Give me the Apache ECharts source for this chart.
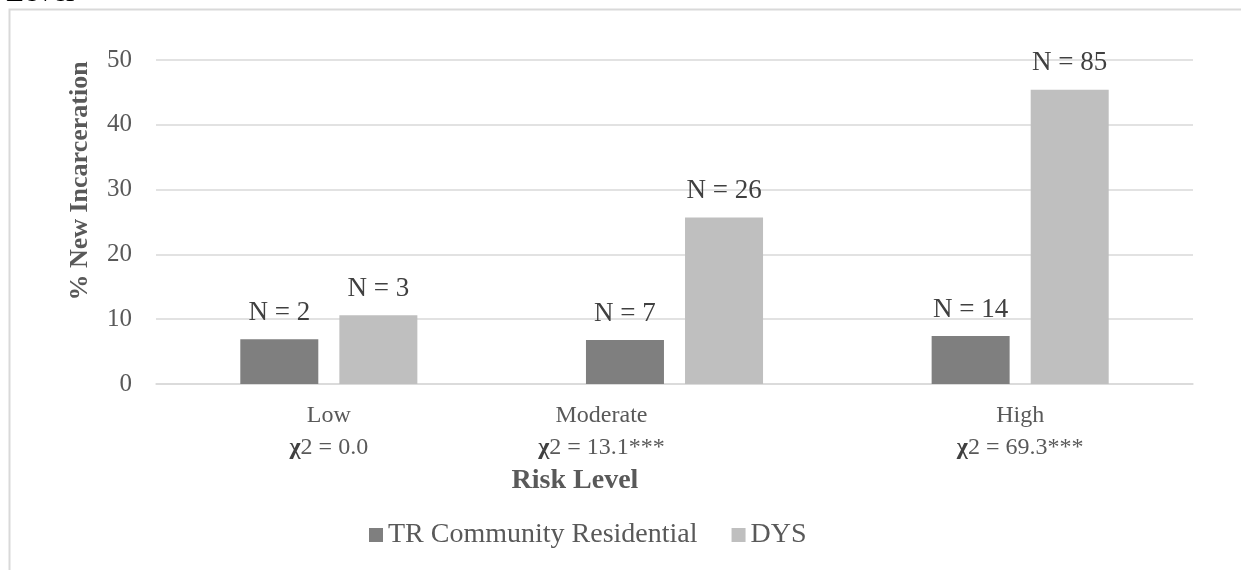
<!DOCTYPE html>
<html>
<head>
<meta charset="utf-8">
<script src="https://cdn.jsdelivr.net/npm/echarts@6/dist/echarts.min.js"></script>
<style>
    html, body { margin: 0; padding: 0; background: #fff; }
    #chart { width: 1241px; height: 570px; }
</style>
</head>
<body>
<div id="chart"></div>
<script>
// data
var categories = ['Low', 'Moderate', 'High'];
var chiSquare = ['0.0', '13.1***', '69.3***'];
var seriesNames = ['TR Community Residential', 'DYS'];
var trValues = [6.9, 6.8, 7.4];
var dysValues = [10.6, 25.7, 45.4];
var trCounts = [2, 7, 14];
var dysCounts = [3, 26, 85];
var yTicks = { min: 0, max: 50, interval: 10 };

var serif = '"Liberation Serif", "Times New Roman", serif';
var grey = '#595959';

var dom = document.getElementById('chart');
var myChart = echarts.init(dom);

function nLabel(counts) {
    return function (p) {
        return 'N = ' + counts[p.dataIndex];
    };
}

var option = {
    animation: false,
    backgroundColor: '#fff',
    grid: { left: 156, right: 48, top: 60, bottom: 186 },
    legend: {
        data: seriesNames,
        left: 364,
        top: 514,
        itemWidth: 14,
        itemHeight: 14,
        itemGap: 34,
        icon: 'rect',
        textStyle: { fontFamily: serif, fontSize: 28, color: grey, lineHeight: 32 }
    },
    xAxis: {
        type: 'category',
        data: categories,
        axisLine: { lineStyle: { color: '#d9d9d9', width: 1.5 } },
        axisTick: { show: false },
        axisLabel: {
            margin: 16,
            interval: 0,
            formatter: function (val, idx) {
                // the middle label sits left of its bars in the original
                var s = idx === 1 ? 'm' : 'a';
                return '{' + s + '|' + val + '}\n{x|χ}{' + s + '|2 = ' + chiSquare[idx] + '}';
            },
            rich: {
                a: { fontFamily: serif, fontSize: 24, color: grey, lineHeight: 32 },
                m: { fontFamily: serif, fontSize: 24, color: grey, lineHeight: 32, padding: [0, 146, 0, 0] },
                x: { fontFamily: serif, fontSize: 24, color: '#404040', fontWeight: 'bold', lineHeight: 32 }
            }
        }
    },
    yAxis: {
        type: 'value',
        min: yTicks.min,
        max: yTicks.max,
        interval: yTicks.interval,
        axisLine: { show: false },
        axisTick: { show: false },
        axisLabel: { margin: 24, fontFamily: serif, fontSize: 25, color: grey },
        splitLine: { lineStyle: { color: '#d9d9d9', width: 1.5 } }
    },
    series: [
        {
            name: seriesNames[0],
            type: 'bar',
            data: trValues,
            barWidth: 78,
            barGap: '27%',
            itemStyle: { color: '#7f7f7f' },
            label: {
                show: true, position: 'top', distance: 13,
                formatter: nLabel(trCounts),
                fontFamily: serif, fontSize: 27, color: '#404040'
            }
        },
        {
            name: seriesNames[1],
            type: 'bar',
            data: dysValues,
            barWidth: 78,
            itemStyle: { color: '#bfbfbf' },
            label: {
                show: true, position: 'top', distance: 13,
                formatter: nLabel(dysCounts),
                fontFamily: serif, fontSize: 27, color: '#404040'
            }
        }
    ],
    graphic: [
        {
            type: 'rect',
            silent: true,
            shape: { x: 9.5, y: 9.5, width: 1300, height: 700 },
            style: { fill: null, stroke: '#d9d9d9', lineWidth: 2 }
        },
        {
            type: 'text',
            left: 6, top: -22,
            style: { text: 'Level', font: '30px ' + serif, fill: '#000' }
        },
        {
            type: 'text',
            x: 80, y: 181,
            rotation: Math.PI / 2,
            style: {
                text: '% New Incarceration',
                font: 'bold 26px ' + serif,
                fill: grey,
                align: 'center',
                verticalAlign: 'middle'
            }
        },
        {
            type: 'text',
            x: 575, y: 481,
            style: {
                text: 'Risk Level',
                font: 'bold 28px ' + serif,
                fill: grey,
                align: 'center',
                verticalAlign: 'middle'
            }
        }
    ]
};

myChart.setOption(option, true);
</script>
</body>
</html>
